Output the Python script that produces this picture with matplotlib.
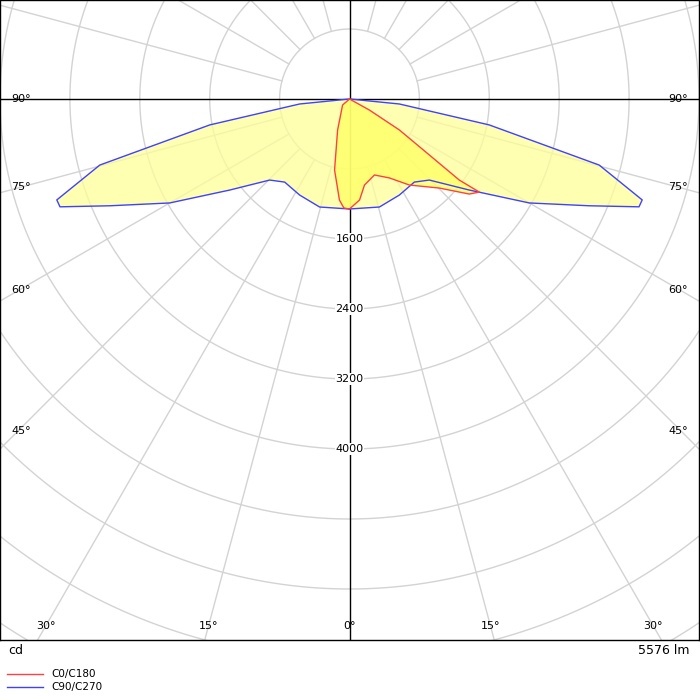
import numpy as np
import matplotlib
matplotlib.use("Agg")
import matplotlib.pyplot as plt
from matplotlib.lines import Line2D

# C90/C270 (symmetric), gamma angle (deg) and intensity (cd), from 0 to 90
blue_ang = [0, 15.5, 27.5, 38, 44.6, 52.8, 60, 66, 69.6, 71, 75.2, 79.5, 84.3, 90]
blue_cd = [1257, 1281, 1237, 1205, 1301, 1721, 2376, 3000, 3535, 3543, 2956, 1627, 574, 0]

# C0/C180 traced path: signed angle (negative = C180 side), intensity (cd)
red_ang = [90, 61, 58.2, 55, 53.6, 54.4, 51.6, 45.3, 34.9, 26.9, 18.2, 9.9, 5.7, 0,
           -3, -5.7, -11.9, -21, -49, -90]
red_cd = [0, 261, 672, 1116, 1561, 1827, 1749, 1447, 1199, 1012, 914, 998, 1160, 1257,
          1247, 1160, 829, 380, 105, 0]

ring_cd = [800, 1600, 2400, 3200, 4000, 4800, 5600, 6400, 7200, 8000]
ring_labels = ["1600", "2400", "3200", "4000"]
angle_labels = [30, 15, 0, 15, 30]
side_labels = [90, 75, 60, 45]

XR = 4000.0
YT = 99 / 70 * 800
YB = -541 / 70 * 800

fig = plt.figure(figsize=(7, 7), dpi=100)
ax = fig.add_axes([0, 60 / 700, 699 / 700, 640 / 700])
ax.set_xlim(-XR, XR)
ax.set_ylim(YB, YT)
ax.set_xticks([]); ax.set_yticks([])
for s in ax.spines.values():
    s.set_color("black"); s.set_linewidth(1)

grey = "#d3d3d3"
t = np.linspace(0, 2 * np.pi, 721)
for r in ring_cd:
    ax.plot(r * np.cos(t), r * np.sin(t), color=grey, lw=1, zorder=1)
for a in range(0, 360, 15):
    if a % 90 == 0:
        continue
    th = np.deg2rad(a)
    ax.plot([800 * np.sin(th), 12000 * np.sin(th)], [-800 * np.cos(th), -12000 * np.cos(th)],
            color=grey, lw=1, zorder=1)
ax.axhline(0, color="black", lw=1, zorder=2)
ax.axvline(0, color="black", lw=1, zorder=2)

def xy(angs, cds):
    a = np.deg2rad(np.array(angs, float)); c = np.array(cds, float)
    return c * np.sin(a), -c * np.cos(a)

ba = blue_ang + [-x for x in blue_ang[::-1]]
bc = blue_cd + blue_cd[::-1]
bx, by = xy(ba, bc)
ax.fill(bx, by, color="#ffff99", alpha=0.75, zorder=3, lw=0)
rx, ry = xy(red_ang, red_cd)
ax.fill(rx, ry, color="#ffff66", alpha=0.8, zorder=4, lw=0)
ax.plot(bx, by, color="#4040ff", lw=1, zorder=5)
ax.plot(rx, ry, color="#ff4040", lw=1, zorder=6)

fs = 8
for lab in ring_labels:
    v = float(lab)
    ax.text(0, -v, lab, ha="center", va="center", fontsize=fs, zorder=7,
            bbox=dict(fc="white", ec="none", pad=0.5))
ypix = 626
yl = (99 - ypix) / 70 * 800
for a, xp in zip(angle_labels, [46, 209, 350, 491, 654]):
    ax.text((xp - 350) / 70 * 800, yl, f"{a}°", ha="center", va="center", fontsize=fs, zorder=7)
for a, yp in zip(side_labels, [99, 187, 290, 431]):
    yv = (99 - yp) / 70 * 800
    ax.text(-XR + 130, yv, f"{a}°", ha="left", va="center", fontsize=fs, zorder=7)
    ax.text(XR - 130, yv, f"{a}°", ha="right", va="center", fontsize=fs, zorder=7)

fig.text(8 / 700, 1 - 651 / 700, "cd", fontsize=9, va="center", ha="left")
fig.text(690 / 700, 1 - 651 / 700, "5576 lm", fontsize=9, va="center", ha="right")
for lab, col, yp in [("C0/C180", "#ff4040", 674), ("C90/C270", "#4040ff", 687)]:
    yf = 1 - yp / 700
    fig.add_artist(Line2D([7 / 700, 43 / 700], [yf, yf], color=col, lw=1))
    fig.text(51 / 700, yf, lab, fontsize=7.5, va="center", ha="left")

fig.savefig("out.png", dpi=100)
